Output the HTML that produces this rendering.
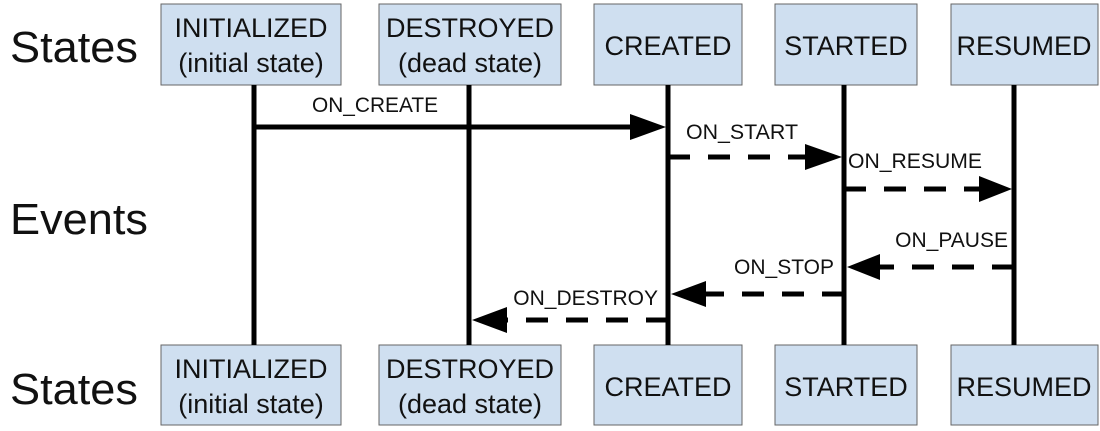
<!DOCTYPE html>
<html><head><meta charset="utf-8"><style>
html,body{margin:0;padding:0;background:#fff;width:1100px;height:431px;overflow:hidden}
svg text{font-family:"Liberation Sans",sans-serif;fill:#111}
</style></head><body>
<svg width="1100" height="431" xmlns="http://www.w3.org/2000/svg">
<g fill="#cfdff0" stroke="#666" stroke-width="1">
<rect x="161" y="4" width="180" height="81"/>
<rect x="379" y="4" width="182" height="81"/>
<rect x="594" y="4" width="148" height="81"/>
<rect x="775" y="4" width="142" height="81"/>
<rect x="951" y="4" width="147" height="81"/>
<rect x="161" y="345" width="180" height="80"/>
<rect x="379" y="345" width="182" height="80"/>
<rect x="594" y="345" width="148" height="80"/>
<rect x="775" y="345" width="142" height="80"/>
<rect x="951" y="345" width="147" height="80"/>
</g>
<g stroke="#000" stroke-width="5">
<line x1="254" y1="85" x2="254" y2="345"/>
<line x1="469" y1="85" x2="469" y2="345"/>
<line x1="668" y1="85" x2="668" y2="345"/>
<line x1="844" y1="85" x2="844" y2="345"/>
<line x1="1014" y1="85" x2="1014" y2="345"/>
<line x1="254" y1="127" x2="632" y2="127"/>
<g stroke-dasharray="22,18">
<line x1="668" y1="157" x2="808" y2="157"/>
<line x1="844" y1="189" x2="980" y2="189"/>
<line x1="1014" y1="267" x2="880" y2="267"/>
<line x1="844" y1="294" x2="704" y2="294"/>
<line x1="668" y1="320" x2="505" y2="320"/>
</g>
</g>
<g fill="#000">
<polygon points="630,114 666,127 630,140"/>
<polygon points="805,144 842,157 805,170"/>
<polygon points="979,176 1012,189 979,202"/>
<polygon points="880,254 847,267 880,280"/>
<polygon points="706,281 671,294 706,307"/>
<polygon points="507,307 472,320 507,333"/>
</g>
<g font-size="21">
<text x="312" y="112" textLength="126" lengthAdjust="spacingAndGlyphs">ON_CREATE</text>
<text x="686" y="139" textLength="112" lengthAdjust="spacingAndGlyphs">ON_START</text>
<text x="848" y="168" textLength="134" lengthAdjust="spacingAndGlyphs">ON_RESUME</text>
<text x="1008" y="247" text-anchor="end">ON_PAUSE</text>
<text x="834" y="274" text-anchor="end">ON_STOP</text>
<text x="658" y="305" text-anchor="end">ON_DESTROY</text>
</g>
<g font-size="44">
<text x="10" y="62" textLength="128" lengthAdjust="spacingAndGlyphs">States</text>
<text x="10" y="234" textLength="138" lengthAdjust="spacingAndGlyphs">Events</text>
<text x="10" y="404" textLength="128" lengthAdjust="spacingAndGlyphs">States</text>
</g>
<g font-size="27" text-anchor="middle">
<text x="251" y="37">INITIALIZED</text>
<text x="251" y="72">(initial state)</text>
<text x="470" y="37">DESTROYED</text>
<text x="470" y="72">(dead state)</text>
<text x="668" y="55">CREATED</text>
<text x="846" y="55">STARTED</text>
<text x="1024" y="55">RESUMED</text>
<text x="251" y="378">INITIALIZED</text>
<text x="251" y="413">(initial state)</text>
<text x="470" y="378">DESTROYED</text>
<text x="470" y="413">(dead state)</text>
<text x="668" y="396">CREATED</text>
<text x="846" y="396">STARTED</text>
<text x="1024" y="396">RESUMED</text>
</g>
</svg>
</body></html>
